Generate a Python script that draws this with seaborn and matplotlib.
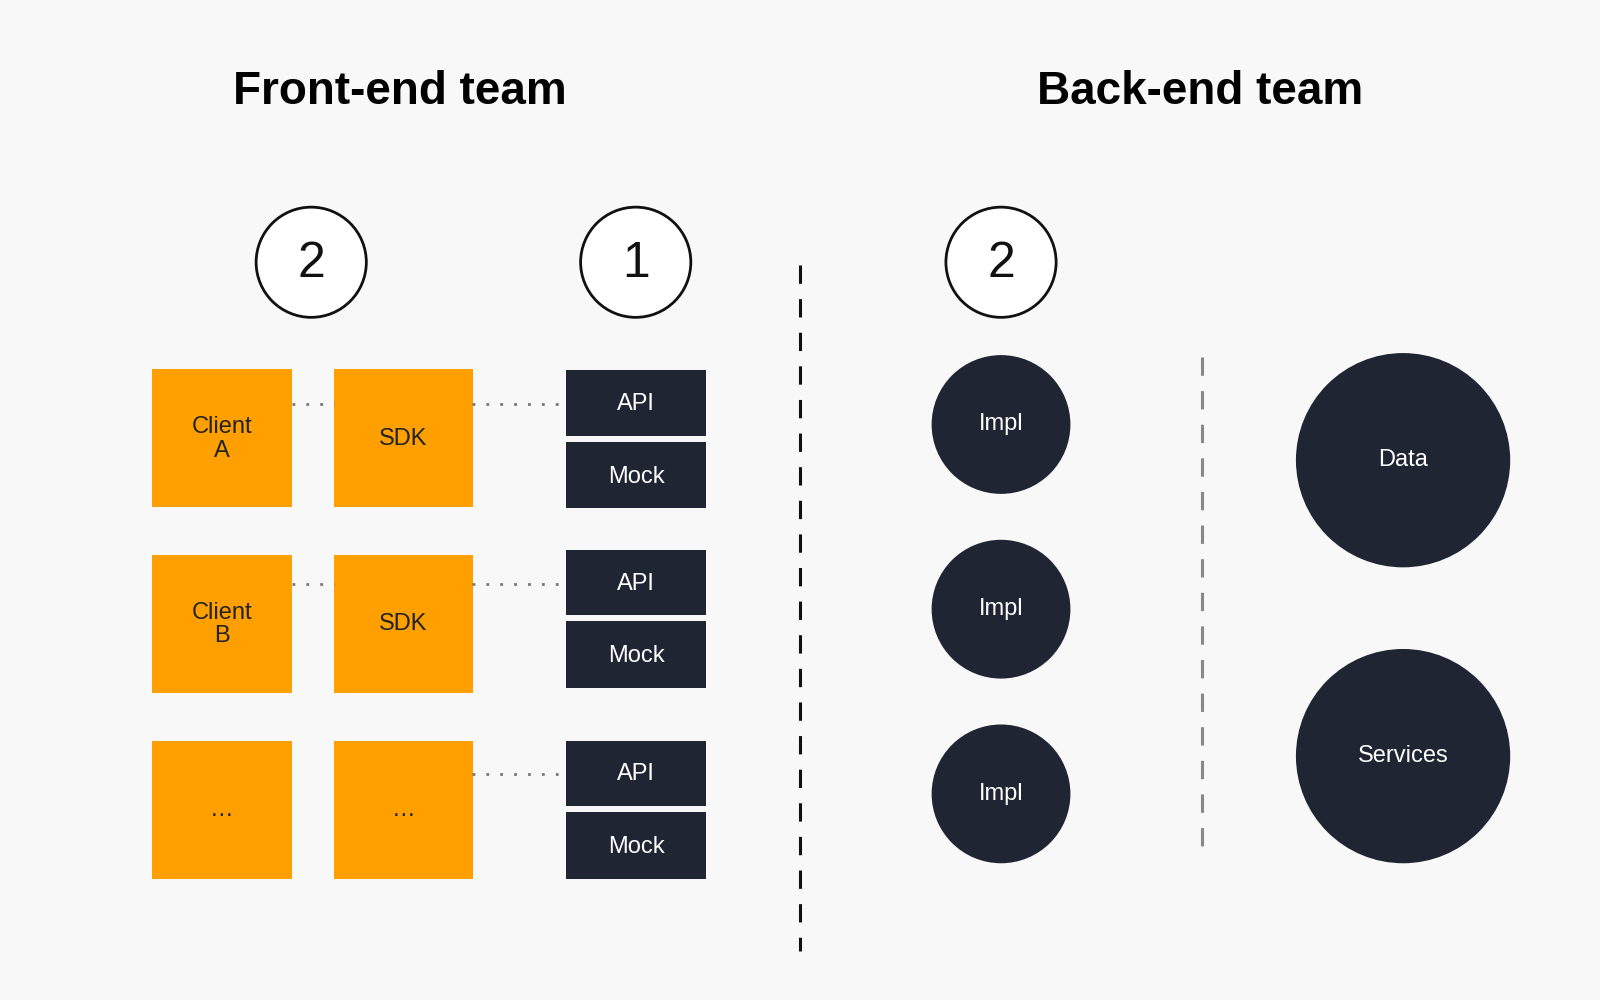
import matplotlib
matplotlib.use("Agg")
import matplotlib.pyplot as plt
from matplotlib.patches import Rectangle, Circle
import seaborn as sns

# ---- data ----
titles = ["Front-end team", "Back-end team"]
title_x = [392, 1176]
step_labels = ["2", "1", "2"]
step_x = [305, 623, 981]
client_labels = ["Client\nA", "Client\nB", "…"]
sdk_labels = ["SDK", "SDK", "…"]
row_tops = [362, 544, 726]
client_links = [True, True, False]
api_tops = [363, 539, 726]
impl_y = [416, 597, 778]
store_labels = ["Data", "Services"]
store_y = [451, 741]

ORANGE = "#FFA000"
DARK = "#1F2533"
FONT = "Liberation Sans"

sns.set_theme(style="white")
fig = plt.figure(figsize=(16, 10), dpi=100, facecolor="#F8F8F8")
ax = fig.add_axes([0, 0, 1, 1])
ax.set_facecolor("#F8F8F8")
ax.set_xlim(0, 1568)
ax.set_ylim(980, 0)
ax.axis("off")

for t, x in zip(titles, title_x):
    ax.text(x, 90, t, ha="center", va="center", fontsize=33, fontweight="bold", family=FONT, color="black")

for lab, x in zip(step_labels, step_x):
    ax.add_patch(Circle((x, 257), 54, facecolor="white", edgecolor="#111111", lw=2))
    ax.text(x, 259, lab, ha="center", va="center", fontsize=36, family=FONT, color="#111111")

bw = 137
for i, top in enumerate(row_tops):
    for x0, lab in ((149, client_labels[i]), (327, sdk_labels[i])):
        ax.add_patch(Rectangle((x0, top), bw, 135, facecolor=ORANGE, edgecolor="none"))
        ax.text(x0 + bw / 2, top + 68, lab, ha="center", va="center", fontsize=17, family=FONT,
                color="#222222", linespacing=1.1)
    at = api_tops[i]
    ax.add_patch(Rectangle((555, at), bw, 64, facecolor=DARK, edgecolor="none"))
    ax.text(555 + bw / 2, at + 33, "API", ha="center", va="center", fontsize=17, family=FONT, color="white")
    ax.add_patch(Rectangle((555, at + 70), bw, 65, facecolor=DARK, edgecolor="none"))
    ax.text(555 + bw / 2, at + 104, "Mock", ha="center", va="center", fontsize=17, family=FONT, color="white")
    ly = at + 33
    if client_links[i]:
        ax.plot([286, 327], [ly, ly], ls=(0, (1, 4)), color="#777777", lw=2)
    ax.plot([463, 555], [ly, ly], ls=(0, (1, 4)), color="#777777", lw=2)

ax.plot([784, 784], [260, 932], ls=(0, (6, 5)), color="#111111", lw=2.2)
ax.plot([1178, 1178], [350, 842], ls=(0, (6, 5)), color="#888888", lw=2.2)

for y in impl_y:
    ax.add_patch(Circle((981, y), 68, facecolor=DARK, edgecolor="none"))
    ax.text(981, y, "Impl", ha="center", va="center", fontsize=17, family=FONT, color="white")

for lab, y in zip(store_labels, store_y):
    ax.add_patch(Circle((1375, y), 105, facecolor=DARK, edgecolor="none"))
    ax.text(1375, y, lab, ha="center", va="center", fontsize=17, family=FONT, color="white")

fig.savefig("out.png", dpi=100, facecolor=fig.get_facecolor())
